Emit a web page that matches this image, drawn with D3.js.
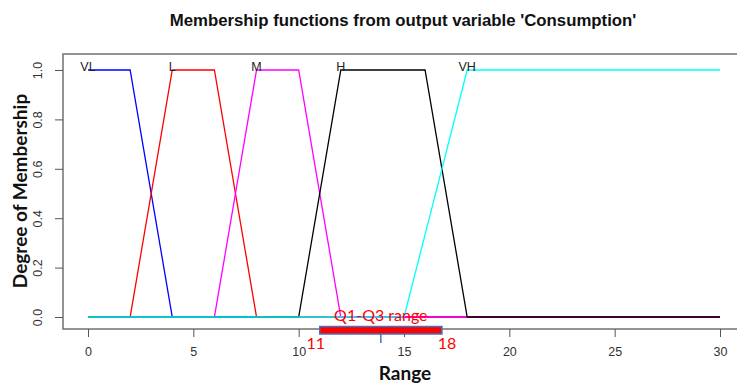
<!DOCTYPE html>
<html>
<head>
<meta charset="utf-8">
<script src="https://cdn.jsdelivr.net/npm/d3@7"></script>
<style>
  body { margin: 0; background: #fff; }
  svg { display: block; }
</style>
</head>
<body>
<div id="chart"></div>
<script>
// Membership functions (x breakpoints, y values)
const setNames = ["VL", "L", "M", "H", "VH"];
const setColors = ["#0000ff", "#ff0000", "#ff00ff", "#000000", "#00ffff"];
const setX = [
  [0, 2, 4, 30],
  [0, 2, 4, 6, 8, 30],
  [0, 6, 8, 10, 12, 30],
  [0, 10, 12, 16, 18, 30],
  [0, 15, 18, 30]
];
const setY = [
  [1, 1, 0, 0],
  [0, 0, 1, 1, 0, 0],
  [0, 0, 1, 1, 0, 0],
  [0, 0, 1, 1, 0, 0],
  [0, 0, 1, 1]
];
const labelX = [0, 4, 8, 12, 18];

const xTicks = [0, 5, 10, 15, 20, 25, 30];
const yTicks = [0, 0.2, 0.4, 0.6, 0.8, 1.0];

// Q1-Q3 annotation (as drawn on the picture)
const q1 = 11, q3 = 18;
const barStart = 11, barEnd = 16.8, barMark = 13.9;

const W = 737, H = 383;
const svg = d3.select("#chart").append("svg")
  .attr("width", W).attr("height", H);

const x = d3.scaleLinear().domain([0, 30]).range([88, 720]);
const y = d3.scaleLinear().domain([0, 1]).range([317, 70]);

// Box
svg.append("rect")
  .attr("x", 63).attr("y", 54)
  .attr("width", 690).attr("height", 275)
  .attr("fill", "none")
  .attr("stroke", "#707070")
  .attr("stroke-width", 1.5);

// X axis
const xAxis = svg.append("g")
  .attr("transform", "translate(0,329)")
  .call(d3.axisBottom(x).tickValues(xTicks).tickSize(8).tickPadding(10));
xAxis.select(".domain").remove();
xAxis.selectAll("line").attr("stroke", "#555");
xAxis.selectAll("text")
  .attr("fill", "#333")
  .style("font-family", "Liberation Sans, Arial, sans-serif")
  .style("font-size", "12.5px");

// Y axis (labels rotated, R style)
const yAxis = svg.append("g")
  .attr("transform", "translate(63,0)")
  .call(d3.axisLeft(y).tickValues(yTicks).tickFormat(d3.format(".1f")).tickSize(8).tickPadding(0));
yAxis.select(".domain").remove();
yAxis.selectAll("line").attr("stroke", "#555");
yAxis.selectAll("text")
  .attr("fill", "#333")
  .attr("text-anchor", "middle")
  .attr("x", null).attr("dy", null)
  .attr("transform", "translate(-21,0) rotate(-90)")
  .style("font-family", "Liberation Sans, Arial, sans-serif")
  .style("font-size", "12.5px");

// Membership lines
const line = d3.line().x(d => x(d[0])).y(d => y(d[1]));
setNames.forEach((name, i) => {
  const pts = setX[i].map((v, j) => [v, setY[i][j]]);
  svg.append("path")
    .datum(pts)
    .attr("d", line)
    .attr("fill", "none")
    .attr("stroke", setColors[i])
    .attr("stroke-width", 1.3);
});

// Set labels
svg.selectAll(".set-label")
  .data(setNames)
  .enter().append("text")
  .attr("class", "set-label")
  .attr("x", (d, i) => x(labelX[i]))
  .attr("y", y(1) + 1)
  .attr("text-anchor", "middle")
  .attr("fill", "#222")
  .style("font-family", "Liberation Sans, Arial, sans-serif")
  .style("font-size", "12.5px")
  .text(d => d);

// Title
svg.append("text")
  .attr("x", 403).attr("y", 26)
  .attr("text-anchor", "middle")
  .attr("fill", "#111")
  .style("font-family", "Liberation Sans, Arial, sans-serif")
  .style("font-weight", "bold")
  .style("font-size", "16.8px")
  .text("Membership functions from output variable 'Consumption'");

// Axis titles
svg.append("text")
  .attr("x", 405).attr("y", 380)
  .attr("text-anchor", "middle")
  .attr("fill", "#111")
  .style("font-family", "Lato, Open Sans, sans-serif")
  .style("font-weight", "bold")
  .style("font-size", "19px")
  .text("Range");

svg.append("text")
  .attr("transform", "translate(27,191) rotate(-90)")
  .attr("text-anchor", "middle")
  .attr("fill", "#111")
  .style("font-family", "Lato, Open Sans, sans-serif")
  .style("font-weight", "bold")
  .style("font-size", "19px")
  .text("Degree of Membership");

// Q1-Q3 annotation
svg.append("rect")
  .attr("x", x(barStart)).attr("y", 326.5)
  .attr("width", x(barEnd) - x(barStart)).attr("height", 7.5)
  .attr("fill", "#ff0000")
  .attr("stroke", "#4472c4")
  .attr("stroke-width", 1.5);

svg.append("line")
  .attr("x1", x(barMark)).attr("x2", x(barMark))
  .attr("y1", 334).attr("y2", 343)
  .attr("stroke", "#4472c4")
  .attr("stroke-width", 1.5);

svg.append("text")
  .attr("x", x(barMark)).attr("y", 321)
  .attr("text-anchor", "middle")
  .attr("fill", "#ff0000")
  .style("font-family", "Lato, Open Sans, sans-serif")
  .style("font-size", "16px")
  .text("Q1-Q3 range");

svg.append("text")
  .attr("x", x(barStart) - 4).attr("y", 349)
  .attr("text-anchor", "middle")
  .attr("fill", "#ff0000")
  .style("font-family", "Lato, Open Sans, sans-serif")
  .style("font-size", "16px")
  .text(q1);

svg.append("text")
  .attr("x", x(barEnd) + 5).attr("y", 349)
  .attr("text-anchor", "middle")
  .attr("fill", "#ff0000")
  .style("font-family", "Lato, Open Sans, sans-serif")
  .style("font-size", "16px")
  .text(q3);
</script>
</body>
</html>
